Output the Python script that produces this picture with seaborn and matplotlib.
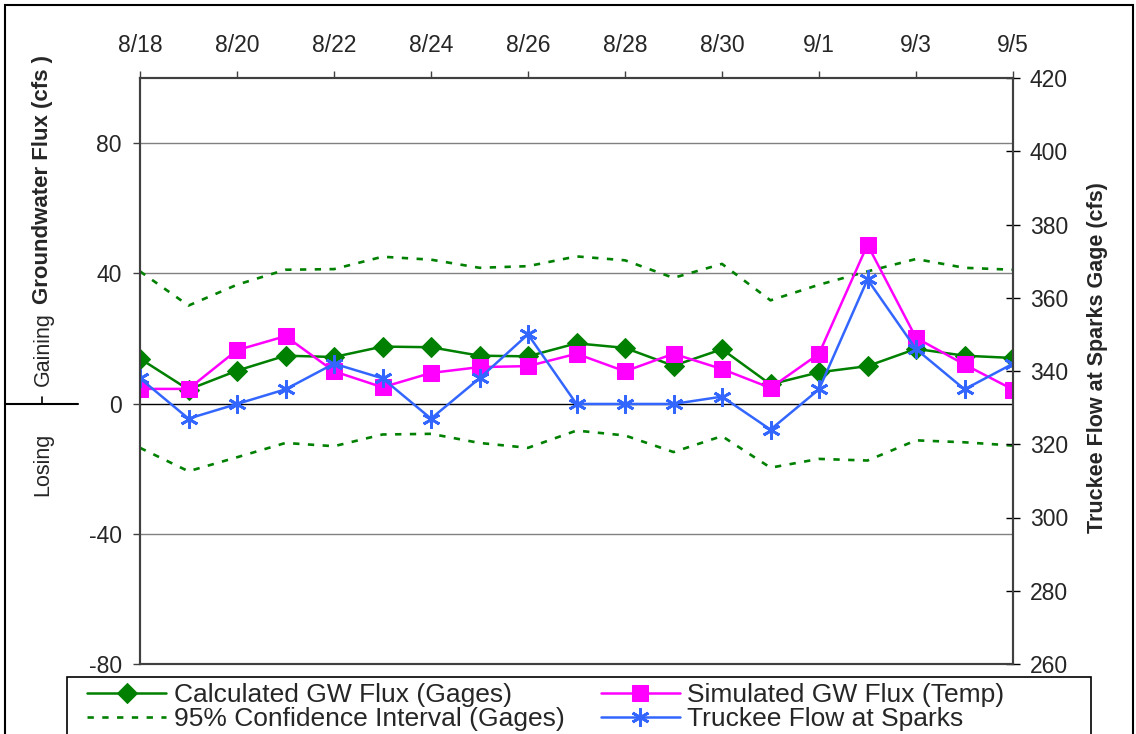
import numpy as np
import pandas as pd
import matplotlib.pyplot as plt
import seaborn as sns
from matplotlib.lines import Line2D
from matplotlib.patches import Rectangle

# data, one value per day 8/18 .. 9/5
dates = ["8/18", "8/19", "8/20", "8/21", "8/22", "8/23", "8/24", "8/25", "8/26", "8/27",
         "8/28", "8/29", "8/30", "8/31", "9/1", "9/2", "9/3", "9/4", "9/5"]
calc_flux = [13.8, 4.3, 10.1, 14.7, 14.3, 17.5, 17.3, 14.7, 14.5, 18.5,
             17.1, 11.6, 16.7, 5.9, 9.6, 11.5, 16.8, 14.7, 14.0]
ci_upper = [40.6, 30.1, 36.5, 41.1, 41.3, 45.1, 44.2, 41.7, 42.2, 45.2,
            44.0, 38.6, 42.9, 31.7, 36.5, 40.6, 44.4, 41.7, 41.1]
ci_lower = [-13.6, -20.8, -16.5, -12.1, -13.1, -9.5, -9.3, -12.1, -13.6, -8.3,
            -9.8, -14.9, -10.0, -19.7, -17.0, -17.5, -11.3, -11.9, -12.9]
sim_flux = [4.5, 4.5, 16.4, 20.7, 9.9, 5.0, 9.4, 11.2, 11.5, 15.3,
            9.9, 15.3, 10.6, 4.8, 15.3, 48.8, 20.2, 12.0, 4.3]
truckee = [338, 327, 331, 335, 342, 338, 327, 338, 350, 331,
           331, 331, 333, 324, 335, 365, 346, 335, 342]

df = pd.DataFrame({"day": range(len(dates)), "calc": calc_flux, "up": ci_upper,
                   "low": ci_lower, "sim": sim_flux, "flow": truckee})

sns.set_style("white")
plt.rcParams["font.family"] = ["Liberation Sans", "DejaVu Sans"]
plt.rcParams["axes.unicode_minus"] = False

GREEN = "#008000"
MAGENTA = "#FF00FF"
BLUE = "#3366FF"
SPINE = "#404040"

fig = plt.figure(figsize=(11.36, 7.34), dpi=100)
ax = fig.add_axes([140 / 1136, 70 / 734, 873 / 1136, 586 / 734])
ax2 = ax.twinx()

dash = (0, (2.4, 3.2))
sns.lineplot(data=df, x="day", y="up", ax=ax, color=GREEN, lw=1.9, linestyle=dash,
             errorbar=None, legend=False, label="95% Confidence Interval (Gages)")
sns.lineplot(data=df, x="day", y="low", ax=ax, color=GREEN, lw=1.9, linestyle=dash,
             errorbar=None, legend=False)
sns.lineplot(data=df, x="day", y="calc", ax=ax, color=GREEN, lw=1.8, marker="D", ms=10.5,
             mec=GREEN, errorbar=None, legend=False, label="Calculated GW Flux (Gages)")
sns.lineplot(data=df, x="day", y="sim", ax=ax, color=MAGENTA, lw=1.8, marker="s", ms=11,
             mec=MAGENTA, errorbar=None, legend=False, label="Simulated GW Flux (Temp)")
sns.lineplot(data=df, x="day", y="flow", ax=ax2, color=BLUE, lw=1.8, marker=(6, 2, 0),
             ms=13, mew=2, mec=BLUE, errorbar=None, legend=False,
             label="Truckee Flow at Sparks")

# left axis
ax.set_xlim(0, len(dates) - 1)
ax.set_ylim(-80, 100)
ax.set_yticks([-80, -40, 0, 40, 80])
ax.set_xlabel("")
ax.set_ylabel("")
for v in [-40, 40, 80]:
    ax.axhline(v, color="#808080", lw=1, zorder=0)
ax.axhline(0, color="black", lw=1, zorder=0)

ax.xaxis.tick_top()
ax.set_xticks(range(0, len(dates), 2))
ax.set_xticklabels(dates[::2])
ax.tick_params(axis="x", direction="out", length=5, width=1, color=SPINE, labelsize=16.5, pad=10)
ax.tick_params(axis="y", direction="out", length=5, width=1, color=SPINE, labelsize=16.5, pad=8)

# right axis
ax2.set_ylim(260, 420)
ax2.set_yticks(range(260, 421, 20))
ax2.set_ylabel("")
ax2.tick_params(axis="y", direction="inout", length=10, width=1, color="black",
                labelsize=16.5, pad=7)

for a in (ax, ax2):
    for s in a.spines.values():
        s.set_color(SPINE)
        s.set_linewidth(1.5)

# axis titles
fig.text(43 / 1136, (734 - 386) / 734, "Gaining", rotation=90, ha="center", va="bottom",
         fontsize=15.5)
fig.text(43 / 1136, (734 - 304) / 734, "Groundwater Flux (cfs )", rotation=90, ha="center",
         va="bottom", fontsize=16, fontweight="bold")
fig.text(43 / 1136, (734 - 464) / 734, "Losing", rotation=90, ha="center", va="center",
         fontsize=15.5)
fig.text(1098 / 1136, (734 - 358) / 734, "Truckee Flow at Sparks Gage (cfs)", rotation=90,
         ha="center", va="center", fontsize=15.5, fontweight="bold")

# gaining / losing separator and outer frame
fig.add_artist(Line2D([5 / 1136, 78 / 1136], [(734 - 404) / 734] * 2, color="black",
                      lw=1.5, transform=fig.transFigure))
fig.add_artist(Line2D([42 / 1136] * 2, [(734 - 404) / 734, (734 - 397) / 734],
                      color="black", lw=1.2, transform=fig.transFigure))
fig.add_artist(Rectangle((5 / 1136, -0.05), 1128 / 1136, (734 - 5) / 734 + 0.05,
                         fill=False, ec="black", lw=1.5, transform=fig.transFigure))

# legend (frame drawn separately so it can run past the entries like the original)
h1, l1 = ax.get_legend_handles_labels()
h2, l2 = ax2.get_legend_handles_labels()
handles = dict(zip(l1 + l2, h1 + h2))
order = ["Calculated GW Flux (Gages)", "95% Confidence Interval (Gages)",
         "Simulated GW Flux (Temp)", "Truckee Flow at Sparks"]
fig.legend([handles[k] for k in order], order, ncol=2, loc="upper left",
           bbox_to_anchor=(82 / 1136, (734 - 678) / 734), fontsize=19, frameon=False,
           handlelength=3.0, handletextpad=0.27, labelspacing=0.0,
           borderpad=0.2, borderaxespad=0.0, columnspacing=1.38)
fig.add_artist(Rectangle((67 / 1136, -0.05), 1024 / 1136, (734 - 677) / 734 + 0.05,
                         fill=False, ec="black", lw=1.2, transform=fig.transFigure))

plt.savefig("out.png", dpi=100)
